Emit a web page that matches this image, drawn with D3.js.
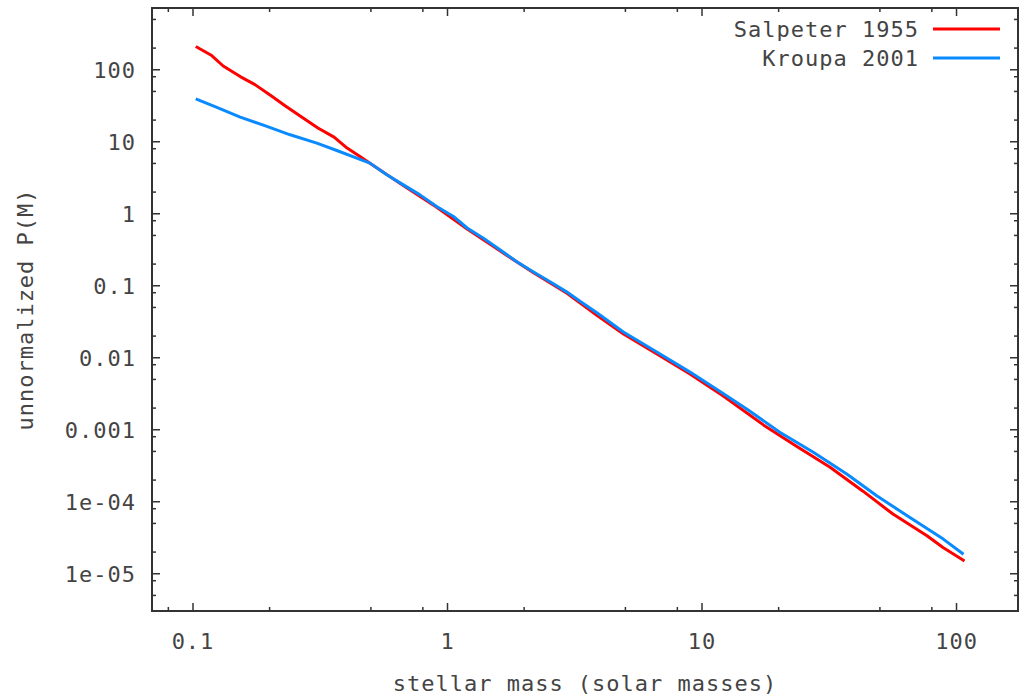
<!DOCTYPE html>
<html>
<head>
<meta charset="utf-8">
<script src="https://cdn.jsdelivr.net/npm/d3@7"></script>
<style>
body { margin: 0; background: #fff; }
text { font-family: "DejaVu Sans Mono", monospace; font-size: 22px; fill: #444; letter-spacing: 1px; }
</style>
</head>
<body>
<svg id="chart" width="1020" height="700"></svg>
<script>
// values
var salpeterMass = [0.103, 0.119, 0.132, 0.154, 0.176, 0.205, 0.231, 0.264, 0.311, 0.360, 0.405, 0.455, 0.498, 0.671, 0.914, 1.20, 1.62, 2.18, 2.96, 3.88, 4.92, 6.68, 9.01, 12.1, 17.5, 23.7, 32.0, 43.1, 56.5, 76.9, 88.9, 108];
var salpeterP = [207, 155, 111, 79.1, 61.2, 42.1, 31.2, 22.6, 15.3, 11.4, 8.04, 6.14, 4.97, 2.44, 1.20, 0.604, 0.298, 0.150, 0.0776, 0.0383, 0.0212, 0.0111, 0.00587, 0.00294, 1.15e-3, 5.75e-4, 2.96e-4, 1.38e-4, 6.64e-5, 3.31e-5, 2.28e-5, 1.48e-5];

var kroupaMass = [0.103, 0.124, 0.154, 0.196, 0.242, 0.308, 0.369, 0.469, 0.498, 0.580, 0.674, 0.783, 0.911, 1.06, 1.20, 1.39, 1.62, 1.88, 2.18, 2.54, 2.95, 3.43, 3.88, 4.93, 6.67, 9.01, 12.2, 15.1, 20.3, 27.5, 37.2, 48.8, 65.9, 89.1, 107];
var kroupaP = [38.7, 29.9, 21.7, 16.1, 12.3, 9.44, 7.45, 5.40, 4.97, 3.42, 2.48, 1.80, 1.24, 0.902, 0.624, 0.449, 0.308, 0.212, 0.154, 0.112, 0.0810, 0.0558, 0.0415, 0.0224, 0.0118, 0.00622, 0.00311, 1.90e-3, 9.08e-4, 4.78e-4, 2.39e-4, 1.19e-4, 5.95e-5, 2.98e-5, 1.84e-5];

var seriesNames = ["Salpeter 1955", "Kroupa 2001"];
var seriesColors = ["#ff0000", "#0a8aff"];

var xMajor = [0.1, 1, 10, 100];
var xTickLabels = ["0.1", "1", "10", "100"];
var yMajor = [1e-5, 1e-4, 1e-3, 0.01, 0.1, 1, 10, 100];
var yTickLabels = ["1e-05", "1e-04", "0.001", "0.01", "0.1", "1", "10", "100"];
var minorSteps = [2, 5, 8];

var xTitle = "stellar mass (solar masses)";
var yTitle = "unnormalized P(M)";

var plotL = 152, plotR = 1018, plotT = 8, plotB = 611;

var svg = d3.select("#chart");

var x = d3.scaleLog().domain([0.06932, 175.2]).range([plotL, plotR]);
var y = d3.scaleLog().domain([2.99e-6, 709.6]).range([plotB, plotT]);

function minorTicks(scale) {
    var d = scale.domain(), out = [];
    for (var e = Math.floor(Math.log10(d[0])) - 1; e <= Math.ceil(Math.log10(d[1])); e++) {
        minorSteps.forEach(function(m){
            var v = m * Math.pow(10, e);
            if (v > d[0] && v < d[1]) out.push(v);
        });
    }
    return out;
}

var xMinor = minorTicks(x);
var yMinor = minorTicks(y);

// ticks point inward on all four sides (gnuplot style)
function addAxis(axisFn, scale, values, size, translate, labels) {
    var ax = axisFn(scale).tickValues(values).tickSizeInner(-size).tickSizeOuter(0);
    if (labels) {
        ax.tickFormat(function(d, i){ return labels[i]; });
    } else {
        ax.tickFormat("");
    }
    var g = svg.append("g")
        .attr("transform", translate)
        .call(ax);
    g.select(".domain").remove();
    g.selectAll("line").attr("stroke", "#333").attr("stroke-width", 1.5);
    return g;
}

var gb = addAxis(d3.axisBottom, x, xMajor, 8, "translate(0," + plotB + ")", xTickLabels);
gb.call(function(g){ g.selectAll("text").attr("y", 38).attr("dy", null); });
addAxis(d3.axisBottom, x, xMinor, 4, "translate(0," + plotB + ")");
addAxis(d3.axisTop, x, xMajor, 8, "translate(0," + plotT + ")");
addAxis(d3.axisTop, x, xMinor, 4, "translate(0," + plotT + ")");

var gl = addAxis(d3.axisLeft, y, yMajor, 8, "translate(" + plotL + ",0)", yTickLabels);
gl.call(function(g){ g.selectAll("text").attr("x", -16).attr("dy", "0.36em"); });
addAxis(d3.axisLeft, y, yMinor, 4, "translate(" + plotL + ",0)");
addAxis(d3.axisRight, y, yMajor, 8, "translate(" + plotR + ",0)");
addAxis(d3.axisRight, y, yMinor, 4, "translate(" + plotR + ",0)");

svg.append("rect")
    .attr("x", plotL)
    .attr("y", plotT)
    .attr("width", plotR - plotL)
    .attr("height", plotB - plotT)
    .attr("fill", "none")
    .attr("stroke", "#333")
    .attr("stroke-width", 2);

var line = d3.line()
    .x(function(d){ return x(d[0]); })
    .y(function(d){ return y(d[1]); });

var series = [
    d3.zip(salpeterMass, salpeterP),
    d3.zip(kroupaMass, kroupaP)
];

svg.selectAll(".series")
    .data(series)
    .enter().append("path")
    .attr("class", "series")
    .attr("d", line)
    .attr("fill", "none")
    .attr("stroke", function(d, i){ return seriesColors[i]; })
    .attr("stroke-width", 3)
    .attr("stroke-linejoin", "round");

// legend, top right
var legend = svg.selectAll(".legend")
    .data(seriesNames)
    .enter().append("g")
    .attr("class", "legend")
    .attr("transform", function(d, i){ return "translate(0," + (29 + i * 29) + ")"; });

legend.append("text")
    .attr("x", 919)
    .attr("dy", "0.36em")
    .attr("text-anchor", "end")
    .text(function(d){ return d; });

legend.append("line")
    .attr("x1", 933)
    .attr("x2", 1000)
    .attr("stroke", function(d, i){ return seriesColors[i]; })
    .attr("stroke-width", 3);

svg.append("text")
    .attr("x", (plotL + plotR) / 2)
    .attr("y", 691)
    .attr("text-anchor", "middle")
    .text(xTitle);

svg.append("text")
    .attr("transform", "translate(33," + (plotT + plotB) / 2 + ") rotate(-90)")
    .attr("text-anchor", "middle")
    .text(yTitle);
</script>
</body>
</html>
